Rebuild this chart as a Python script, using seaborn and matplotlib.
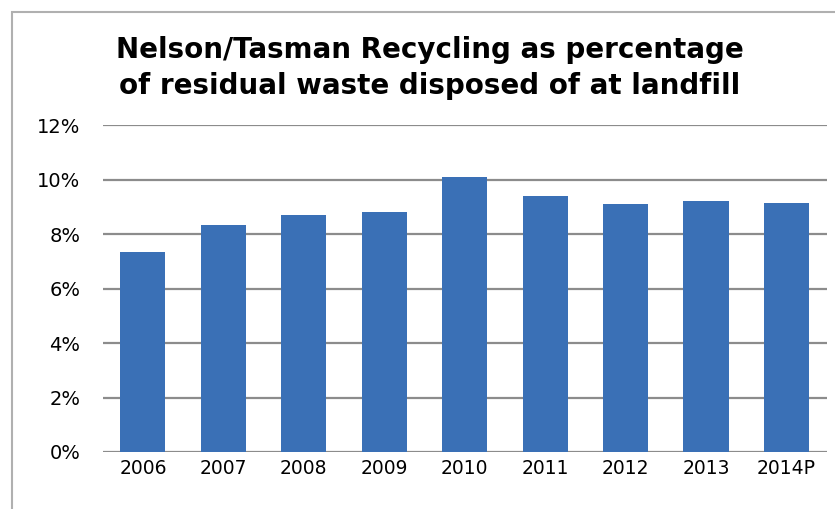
import matplotlib
matplotlib.use("Agg")
import matplotlib.pyplot as plt
import seaborn as sns
import pandas as pd
from matplotlib.patches import Rectangle
from matplotlib.ticker import FuncFormatter

years = ["2006", "2007", "2008", "2009", "2010", "2011", "2012", "2013", "2014P"]
recycling_pct = [7.35, 8.33, 8.70, 8.82, 10.11, 9.40, 9.11, 9.22, 9.13]
y_ticks = [0, 2, 4, 6, 8, 10, 12]
title = "Nelson/Tasman Recycling as percentage\nof residual waste disposed of at landfill"

df = pd.DataFrame({"year": years, "pct": recycling_pct})

sns.set_theme(style="white")
plt.rcParams["font.family"] = ["DejaVu Sans"]

fig = plt.figure(figsize=(8.35, 5.09), dpi=100)
ax = fig.add_axes([0.123, 0.112, 0.867, 0.642])

sns.barplot(data=df, x="year", y="pct", color="#3A70B6", width=0.56,
            saturation=1, linewidth=0, ax=ax, zorder=3)

ax.set_ylim(0, 12)
ax.set_yticks(y_ticks)
ax.yaxis.set_major_formatter(FuncFormatter(lambda v, p: f"{int(v)}%"))
ax.grid(axis="y", color="#8c8c8c", linewidth=1.6, zorder=0)
ax.set_axisbelow(True)
for s in ax.spines.values():
    s.set_visible(False)
ax.set_xlabel("")
ax.set_ylabel("")
ax.tick_params(axis="y", length=0, pad=16, labelsize=14, labelcolor="black")
ax.tick_params(axis="x", length=0, pad=5, labelsize=13.5, labelcolor="black")
ax.set_xlim(-0.5, len(years) - 0.5)

fig.text(0.515, 0.866, title, ha="center", va="center", fontsize=20,
         fontweight="bold", linespacing=1.35, color="black")

fig.patches.append(Rectangle((0.014, -0.05), 1.1, 1.026, transform=fig.transFigure,
                             fill=False, edgecolor="#b0b0b0", linewidth=1.5))

fig.savefig("out.png", dpi=100)
